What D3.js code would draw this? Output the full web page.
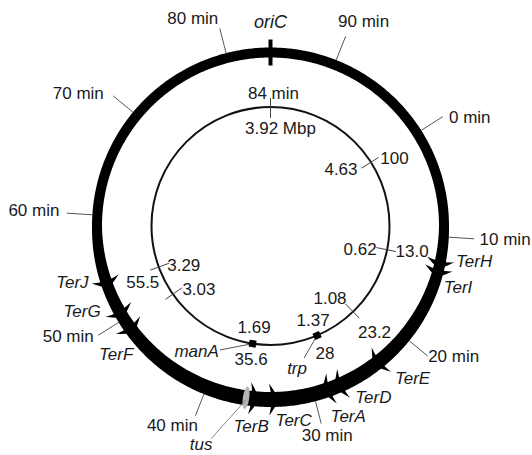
<!DOCTYPE html>
<html>
<head>
<meta charset="utf-8">
<script src="https://cdn.jsdelivr.net/npm/d3@7"></script>
<style>
  body { margin: 0; background: #fff; }
  svg text { font-family: "Liberation Sans", Arial, sans-serif; font-size: 17px; fill: #1a1a1a; }
  svg text.it { font-style: italic; }
</style>
</head>
<body>
<svg id="map" width="532" height="455"></svg>
<script>
// positions are map minutes on a 100 min chromosome
const oriC = 84;
const minuteLabels = ["0 min", "10 min", "20 min", "30 min", "40 min", "50 min", "60 min", "70 min", "80 min", "90 min"];
const minuteValues = [0, 10, 20, 30, 40, 50, 60, 70, 80, 90];

const terNames = ["TerH", "TerI", "TerE", "TerD", "TerA", "TerC", "TerB", "TerF", "TerG", "TerJ"];
const terPos = [12.4, 13.2, 23.3, 27.4, 28.6, 33.8, 35.6, 49.0, 50.7, 53.75];
const terBlocks = ["cw", "cw", "cw", "cw", "cw", "ccw", "ccw", "ccw", "ccw", "ccw"];
const tusPos = 36.25;

// inner circle: Mbp on the inside, minutes on the outside
const innerPos = [84, 0, 12.2, 21.8, 53.4, 49.3];
const innerMbp = ["3.92 Mbp", "4.63", "0.62", "1.08", "3.29", "3.03"];
const innerMin = ["84 min", "100", "13.0", "23.2", "55.5", ""];

const geneNames = ["trp", "manA"];
const genePos = [27.6, 36.4];
const geneMbp = ["1.37", "1.69"];
const geneMin = ["28", "35.6"];

// ---- layout
const cx = 270.5, cy = 226;
const RM = 173.5;      // middle of the thick ring
const RI = 119;        // inner circle
const thick = a => 10 + 5 * Math.max(0, -Math.cos(a));

const ang = d3.scaleLinear().domain([oriC, oriC + 100]).range([0, 2 * Math.PI]);
const angOf = m => ang(m < oriC ? m + 100 : m);
const polar = (m, r) => {
  const a = angOf(m);
  return [cx + r * Math.sin(a), cy - r * Math.cos(a)];
};
const deg = m => angOf(m) * 180 / Math.PI;

// label offsets (text centre relative to its anchor point)
const minuteNudge = [[27, 0], [31, 0], [26, 0.5], [6, 11.5], [-23, 9], [-30, 1], [-33, -3], [-35, -2.5], [-27, -10], [18, -15]];
const terNudge = [[34, -2], [20, 16], [34, 16], [33, 12], [20, 26], [21, 21], [-2, 27], [-14, 26], [-38, -1], [-34, 0]];
const innerNudgeIn = [[10, 21], [-30, 7], [-27, -1], [-23, -14], [25, -1.5], [26, -5]];
const innerNudgeOut = [[3, -14], [23.5, -4.5], [25, 1], [21.5, 20], [-16, 15.5], [0, 0]];
const geneNudgeIn = [[-4, -15.5], [1.5, -17]];
const geneNudgeOut = [[8, 18], [-1.5, 15.5]];
const geneNudgeName = [[-20, 32.5], [-56, 7]];
const geneLeader = [[-13, 22.5], [-32.6, 6.3]];

const svg = d3.select("#map");
const g = svg.append("g");

function label(sel, text, x, y, italic) {
  sel.append("text")
    .attr("class", italic ? "it" : null)
    .attr("x", x).attr("y", y).attr("dy", "0.35em")
    .attr("text-anchor", "middle")
    .text(text);
}

// inner circle
g.append("circle").attr("cx", cx).attr("cy", cy).attr("r", RI)
  .attr("fill", "none").attr("stroke", "#111").attr("stroke-width", 2);

// thick outer ring, heavier toward the terminus
const samples = d3.range(0, 2 * Math.PI, 0.01);
const outerLine = d3.lineRadial().curve(d3.curveLinearClosed).angle(a => a).radius(a => RM + thick(a) / 2);
const innerLine = d3.lineRadial().curve(d3.curveLinearClosed).angle(a => a).radius(a => RM - thick(a) / 2);
g.append("path")
  .attr("transform", `translate(${cx},${cy})`)
  .attr("d", outerLine(samples) + innerLine(samples))
  .attr("fill", "#000").attr("fill-rule", "evenodd");

// minute ticks and labels
minuteValues.forEach((m, i) => {
  const a = angOf(m);
  const p0 = polar(m, RM + thick(a) / 2);
  const p1 = polar(m, 204);
  g.append("line").attr("x1", p0[0]).attr("y1", p0[1]).attr("x2", p1[0]).attr("y2", p1[1])
    .attr("stroke", "#555").attr("stroke-width", 1);
  label(g, minuteLabels[i], p1[0] + minuteNudge[i][0], p1[1] + minuteNudge[i][1]);
});

// oriC
{
  const p0 = polar(oriC, RM - 13), p1 = polar(oriC, RM + 13);
  g.append("line").attr("x1", p0[0]).attr("y1", p0[1]).attr("x2", p1[0]).attr("y2", p1[1])
    .attr("stroke", "#000").attr("stroke-width", 4);
  const pl = polar(oriC, 204);
  g.append("text").attr("class", "it")
    .attr("x", pl[0]).attr("y", pl[1]).attr("dy", "0.35em")
    .attr("text-anchor", "middle").style("font-size", "18px")
    .text("oriC");
}

// tus
{
  const a = angOf(tusPos);
  const p = polar(tusPos, RM);
  g.append("ellipse")
    .attr("transform", `translate(${p[0]},${p[1]}) rotate(${deg(tusPos)})`)
    .attr("rx", 3.2).attr("ry", thick(a) / 2 + 4)
    .attr("fill", "#b4b4b4");
  g.append("line").attr("x1", p[0]).attr("y1", p[1] + 2).attr("x2", p[0] - 35).attr("y2", p[1] + 41)
    .attr("stroke", "#888").attr("stroke-width", 1);
  label(g, "tus", p[0] - 45, p[1] + 46, true);
}

// Ter sites: barbed heads pointing toward the fork they arrest
terPos.forEach((m, i) => {
  const a = angOf(m);
  const d = terBlocks[i] === "cw" ? 1 : -1;
  const h = thick(a) / 2 + 8.5;
  const path = d3.path();
  path.moveTo(6 * d, 0);
  path.quadraticCurveTo(2.5 * d, h * 0.5, -3.5 * d, h);
  path.quadraticCurveTo(-1.5 * d, h * 0.55, -1.5 * d, 0);
  path.quadraticCurveTo(-1.5 * d, -h * 0.55, -3.5 * d, -h);
  path.quadraticCurveTo(2.5 * d, -h * 0.5, 6 * d, 0);
  path.closePath();
  g.append("path")
    .attr("transform", `translate(${cx},${cy}) rotate(${deg(m)}) translate(0,${-RM})`)
    .attr("d", path.toString())
    .attr("fill", "#000");
  const p = polar(m, RM);
  label(g, terNames[i], p[0] + terNudge[i][0], p[1] + terNudge[i][1], true);
});

// inner circle ticks
innerPos.forEach((m, i) => {
  const p0 = polar(m, 108), p1 = polar(m, 128);
  g.append("line").attr("x1", p0[0]).attr("y1", p0[1]).attr("x2", p1[0]).attr("y2", p1[1])
    .attr("stroke", "#444").attr("stroke-width", 1);
  const p = polar(m, RI);
  label(g, innerMbp[i], p[0] + innerNudgeIn[i][0], p[1] + innerNudgeIn[i][1]);
  if (innerMin[i]) label(g, innerMin[i], p[0] + innerNudgeOut[i][0], p[1] + innerNudgeOut[i][1]);
});

// marker genes
genePos.forEach((m, i) => {
  const p = polar(m, RI);
  g.append("line").attr("x1", p[0]).attr("y1", p[1])
    .attr("x2", p[0] + geneLeader[i][0]).attr("y2", p[1] + geneLeader[i][1])
    .attr("stroke", "#555").attr("stroke-width", 1);
  g.append("rect")
    .attr("transform", `translate(${p[0]},${p[1]}) rotate(${deg(m)})`)
    .attr("x", -3.5).attr("y", -3.5).attr("width", 7).attr("height", 7)
    .attr("fill", "#000");
  label(g, geneMbp[i], p[0] + geneNudgeIn[i][0], p[1] + geneNudgeIn[i][1]);
  label(g, geneMin[i], p[0] + geneNudgeOut[i][0], p[1] + geneNudgeOut[i][1]);
  label(g, geneNames[i], p[0] + geneNudgeName[i][0], p[1] + geneNudgeName[i][1], true);
});
</script>
</body>
</html>
